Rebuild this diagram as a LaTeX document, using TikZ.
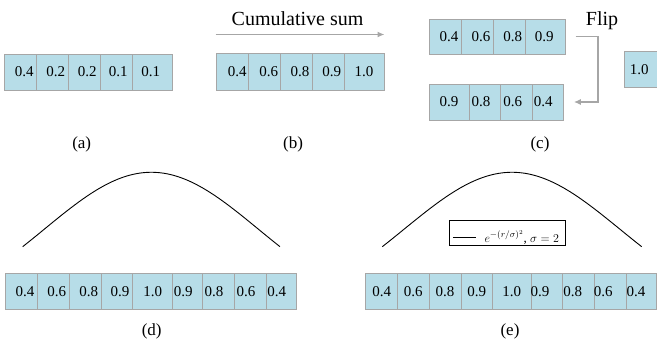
\documentclass[tikz,border=0pt]{standalone}
\usepackage{fontspec}
\setmainfont{Liberation Serif}
\usetikzlibrary{arrows.meta}
\definecolor{cellfill}{RGB}{183,221,232}
\definecolor{cellline}{RGB}{166,166,166}
\tikzset{
  cell/.style={draw=cellline, fill=cellfill, line width=1pt, inner sep=0pt},
  num/.style={font=\fontsize{15}{18}\selectfont, inner sep=0pt},
  captxt/.style={font=\fontsize{17}{20}\selectfont, inner sep=0pt},
  bigtxt/.style={font=\fontsize{20}{24}\selectfont, inner sep=0pt, anchor=base},
  grayarrow/.style={draw=cellline, line width=1.5pt, -{Latex[length=7pt,width=6pt]}},
  curve/.style={line width=0.9pt, black},
  legendbox/.style={draw=black, line width=0.7pt, inner sep=0pt, minimum width=116pt, minimum height=25.7pt}
}
\newcommand\cellrow[4]{%
  \foreach \a/\b/\t/\v [count=\i] in {#4}{
    \node[cell, minimum width={(\b-\a)*1pt}, minimum height={(#3-#2)*1pt}] (#1\i) at ({(\a+\b)/2},{(#2+#3)/2}) {};
    \node[num] (#1t\i) at (\t,{(#2+#3)/2}) {\v};
  }}
\begin{document}
\begin{tikzpicture}[x=1pt,y=-1pt]
\useasboundingbox (0,0) rectangle (657,343);
% (a)
\cellrow{a}{54}{90}{4/36/24.3/0.4, 36/68/55.7/0.2, 68/100/87.3/0.2, 100/132/118.3/0.1, 132/172/150.7/0.1}
% (b)
\cellrow{b}{53.3}{90}{216/248.7/237.3/0.4, 248.7/280.7/268.7/0.6, 280.7/312.7/300/0.8, 312.7/344/331.7/0.9, 344/384/364/1.0}
% (c)
\cellrow{c}{19}{54}{429.3/461.7/449/0.4, 461.7/493.3/481/0.6, 493.3/525/512.7/0.8, 525/565/544.3/0.9}
\cellrow{f}{84}{120}{429.3/469.3/449/0.9, 469.3/500.7/481/0.8, 500.7/532.7/512.7/0.6, 532.7/563.3/543.3/0.4}
\cellrow{g}{51.7}{87.3}{624/662/639.3/1.0}
% (d)
\cellrow{d}{273.3}{309.3}{5.3/37.3/25/0.4, 37.3/69.3/56.7/0.6, 69.3/101.3/88.7/0.8, 101.3/132.7/120/0.9, 132.7/172/152.7/1.0, 172/202.7/183.3/0.9, 202.7/234.7/214/0.8, 234.7/266.7/246/0.6, 266.7/296.7/276.7/0.4}
% (e)
\cellrow{e}{273.3}{309.3}{365/397.7/381.7/0.4, 397.7/429.3/413.3/0.6, 429.3/461/445/0.8, 461/492.7/476.7/0.9, 492.7/531.7/511.7/1.0, 531.7/562.7/540/0.9, 562.7/594.3/572.7/0.8, 594.3/626/603.3/0.6, 626/656/636/0.4}
% arrows and titles
\node[bigtxt] (cum) at (297.5,25) {Cumulative sum};
\draw[grayarrow] ([yshift=18.3pt]b1.north west) -- ([yshift=18.3pt]b5.north east);
\node[bigtxt] (flip) at (602,25) {Flip};
\draw[grayarrow] ([xshift=10pt]c4.east) -- ++(22.7,0) |- ([xshift=10pt]f4.east);
% captions
\node[captxt] (la) at (81.7,144) {(a)};
\node[captxt] (lb) at (293,144) {(b)};
\node[captxt] (lc) at (540,144) {(c)};
\node[captxt] (ld) at (151.7,331.5) {(d)};
\node[captxt] (le) at (510,331.5) {(e)};
% curves
\draw[curve] plot[domain=-1.2:1.2, samples=90] ({151.35 + \x*(128.65/1.2)}, {246.7 - 74.4*(exp(-((\x)*(\x))/2)-0.4868)/0.5132});
\draw[curve] plot[domain=-1.2:1.2, samples=90] ({512 + \x*(129.7/1.2)}, {246.7 - 74.4*(exp(-((\x)*(\x))/2)-0.4868)/0.5132});
% legend
\node[legendbox] (leg) at (507,232.9) {};
\draw[line width=0.8pt] ([xshift=4.3pt,yshift=-4.4pt]leg.west) -- ++(23.4,0) coordinate (legendend);
\node[anchor=west, inner sep=0pt, font=\fontsize{13}{15}\selectfont] (legtext) at ([xshift=8pt]legendend) {$e^{-(r/\sigma)^2}$, $\sigma = 2$};
\end{tikzpicture}
\end{document}
